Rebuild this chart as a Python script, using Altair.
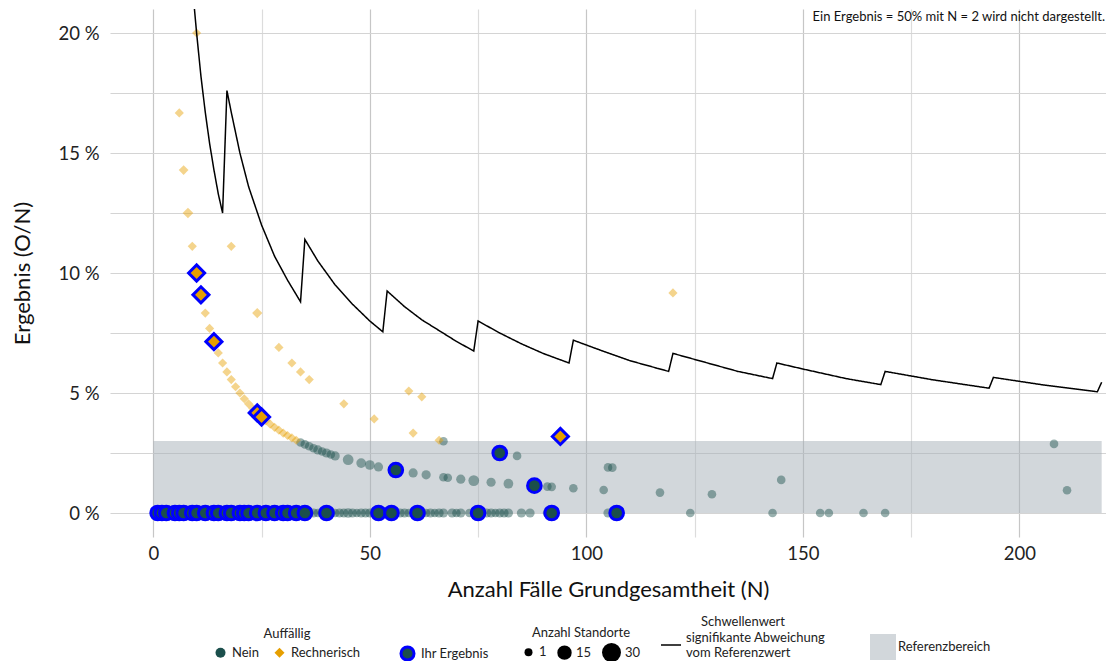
import altair as alt
import pandas as pd

FONT = "Lato"
TEAL = "#1b4f4c"
ORANGE = "#e69f00"
BLUE = "#0000ff"

# ---------------- data ----------------
# faint points, Auffällig = Nein
nein_n = [36, 37, 38, 39, 41, 42, 43, 44, 45, 46, 47, 48, 49, 50, 51, 53, 54, 57, 58, 59,
          62, 63, 64, 65, 66, 67, 69, 70, 71, 73, 77, 78, 79, 80, 81, 82, 85, 87, 91, 105,
          124, 143, 154, 156, 164, 169, 8, 13, 19, 25, 27, 29, 34,
          34, 35, 36, 37, 38, 39, 40, 41, 42, 45, 48, 50, 52, 60, 63, 67, 68, 71, 74, 78,
          82, 91, 92, 97, 104, 117, 129, 67, 84, 105, 106, 145, 208, 211]
nein_pct = [0] * 53 + [
    2.94, 2.86, 2.78, 2.70, 2.63, 2.56, 2.50, 2.44, 2.38, 2.22, 2.08, 2.00, 1.92, 1.67, 1.59,
    1.49, 1.47, 1.41, 1.35, 1.28, 1.22, 1.10, 1.09, 1.03, 0.96, 0.85, 0.78, 2.99, 2.38, 1.90,
    1.89, 1.38, 2.88, 0.95]
nein_st = [3, 3, 2, 3, 3, 2, 3, 3, 4, 3, 2, 3, 3, 3, 2, 3, 2, 3, 3, 2,
           3, 2, 3, 2, 3, 3, 3, 2, 3, 2, 3, 3, 2, 3, 3, 3, 3, 3, 3, 3,
           2, 2, 2, 2, 2, 2, 3, 3, 3, 3, 3, 3, 3,
           2, 2, 2, 2, 3, 2, 3, 2, 3, 6, 4, 4, 3, 3, 3, 2, 2, 3, 6, 3,
           4, 2, 2, 2, 2, 2, 2, 2, 2, 2, 2, 2, 2, 2]

# faint points, Auffällig = Rechnerisch
rech_n = [6, 7, 8, 9, 10, 18, 12, 13, 15, 16, 17, 18, 19, 20, 21, 22, 23, 26, 27, 28, 29,
          30, 31, 32, 33, 24, 29, 32, 34, 36, 44, 51, 59, 62, 60, 66, 120]
rech_pct = [16.67, 14.29, 12.5, 11.11, 20.0, 11.11, 8.33, 7.69, 6.67, 6.25, 5.88, 5.56,
            5.26, 5.0, 4.76, 4.55, 4.35, 3.85, 3.70, 3.57, 3.45, 3.33, 3.23, 3.13, 3.03,
            8.33, 6.90, 6.25, 5.88, 5.56, 4.55, 3.92, 5.08, 4.84, 3.33, 3.03, 9.17]
rech_st = [3, 4, 6, 3, 3, 3, 3, 3, 3, 3, 3, 3, 3, 3, 3, 3, 3, 3, 3, 3, 3,
           3, 3, 3, 3, 5, 3, 3, 3, 3, 3, 3, 3, 3, 3, 3, 3]

# highlighted points ("Ihr Ergebnis")
ihr_n = [1, 2, 3, 5, 6, 7, 9, 10, 12, 14, 15, 17, 18, 20, 21, 22, 24, 26, 28, 30, 31, 33,
         35, 40, 52, 55, 61, 75, 92, 107, 56, 80, 88,
         10, 11, 14, 24, 25, 94]
ihr_pct = [0] * 30 + [1.79, 2.50, 1.14, 10.0, 9.09, 7.14, 4.17, 4.0, 3.19]
ihr_auff = ["Nein"] * 33 + ["Rechnerisch"] * 6
ihr_st = [13] * 33 + [20] * 6

# threshold line "Schwellenwert"
thr_n = [9.5, 10, 11, 12, 13, 14, 15, 16,
         17, 18, 20, 22, 25, 28, 31, 34,
         35, 38, 42, 46, 50, 53,
         54, 58, 62, 66, 70, 74,
         75, 80, 85, 90, 96,
         97, 103, 110, 119,
         120, 128, 135, 143,
         144, 150, 160, 168,
         169, 180, 193,
         194, 205, 218,
         219]
thr_pct = [21.0, 20.0, 18.2, 16.7, 15.4, 14.3, 13.3, 12.5,
           17.6, 16.7, 15.0, 13.6, 12.0, 10.7, 9.7, 8.8,
           11.4, 10.5, 9.5, 8.7, 8.0, 7.55,
           9.25, 8.6, 8.05, 7.6, 7.15, 6.75,
           8.0, 7.5, 7.05, 6.65, 6.25,
           7.2, 6.8, 6.35, 5.9,
           6.65, 6.25, 5.9, 5.6,
           6.25, 6.0, 5.6, 5.35,
           5.9, 5.55, 5.2,
           5.65, 5.35, 5.05,
           5.45]

# reference range
ref_n = [0]
ref_n2 = [219]
ref_lo = [0]
ref_hi = [3]

note_text = "Ein Ergebnis = 50% mit N = 2 wird nicht dargestellt."
thr_label = "signifikante Abweichung vom Referenzwert"

# ---------------- tables ----------------
faint = pd.DataFrame({
    "N": nein_n + rech_n,
    "pct": nein_pct + rech_pct,
    "auff": ["Nein"] * len(nein_n) + ["Rechnerisch"] * len(rech_n),
    "st": nein_st + rech_st,
})
ihr = pd.DataFrame({"N": ihr_n, "pct": ihr_pct, "auff": ihr_auff, "st": ihr_st,
                    "ihr": ["Ihr Ergebnis"] * len(ihr_n)})
thr = pd.DataFrame({"N": thr_n, "pct": thr_pct, "idx": list(range(len(thr_n))),
                    "lab": [thr_label] * len(thr_n)})
ref = pd.DataFrame({"n0": ref_n, "n1": ref_n2, "lo": ref_lo, "hi": ref_hi,
                    "lab": ["Referenzbereich"]})

# ---------------- scales / axes ----------------
xscale = alt.Scale(domain=[-10, 220], nice=False, zero=False)
yscale = alt.Scale(domain=[-1, 21], nice=False, zero=False)

xaxis = alt.Axis(
    title="Anzahl Fälle Grundgesamtheit (N)",
    values=[0, 25, 50, 75, 100, 125, 150, 175, 200],
    labelExpr="datum.value % 50 == 0 ? datum.label : ''",
    ticks=False, domain=False, labelFlush=False,
    labelPadding=7, labelFontSize=18.5, labelFont=FONT, labelColor="#222",
    titleFontSize=22, titleFont=FONT, titleFontWeight="normal", titleColor="#111",
    titleX=498, titleY=52, titleBaseline="middle", titleAlign="center", titleAnchor="middle",
    gridColor={"condition": {"test": "datum.value % 50 == 0", "value": "#c6c6c6"},
               "value": "#dcdcdc"},
    gridWidth=1.2,
)
yaxis = alt.Axis(
    title="Ergebnis (O/N)",
    values=[0, 2.5, 5, 7.5, 10, 12.5, 15, 17.5, 20],
    labelExpr="datum.value % 5 == 0 ? datum.value + ' %' : ''",
    ticks=False, domain=False, labelFlush=False,
    labelPadding=11, labelFontSize=18.5, labelFont=FONT, labelColor="#222",
    titleFontSize=22, titleFont=FONT, titleFontWeight="normal", titleColor="#111",
    titleX=-88, titleY=264, titleAngle=-90, titleBaseline="middle", titleAlign="center",
    gridColor="#d4d4d4", gridWidth=1.2,
)

X = alt.X("N:Q", scale=xscale, axis=xaxis)
Y = alt.Y("pct:Q", scale=yscale, axis=yaxis)

leg_auff = alt.Legend(title="Auffällig", orient="none", legendX=104, legendY=619,
                      direction="horizontal", titleAnchor="middle", titlePadding=5,
                      symbolSize=100, symbolOpacity=1, symbolStrokeWidth=0,
                      labelOffset=5, columnPadding=14)
color_enc = alt.Color("auff:N", scale=alt.Scale(domain=["Nein", "Rechnerisch"],
                                                range=[TEAL, ORANGE]), legend=leg_auff)
shape_enc = alt.Shape("auff:N", scale=alt.Scale(domain=["Nein", "Rechnerisch"],
                                                range=["circle", "diamond"]), legend=leg_auff)
size_enc = alt.Size("st:Q", scale=alt.Scale(domain=[1, 30], range=[64, 360]),
                    legend=alt.Legend(title="Anzahl Standorte", orient="none",
                                      legendX=412, legendY=618, direction="horizontal",
                                      values=[1, 15, 30], titleAnchor="middle", titlePadding=3,
                                      symbolFillColor="black", symbolStrokeColor="black",
                                      symbolOpacity=1, symbolStrokeWidth=0, symbolType="circle",
                                      labelOffset=4, columnPadding=10))

# ---------------- layers ----------------
rect = alt.Chart(ref).mark_rect(opacity=0.5).encode(
    x=alt.X("n0:Q", scale=xscale, axis=xaxis), x2="n1:Q",
    y=alt.Y("lo:Q", scale=yscale, axis=yaxis), y2="hi:Q",
    fill=alt.Fill("lab:N", scale=alt.Scale(domain=["Referenzbereich"], range=["#a6b0b8"]),
                  legend=alt.Legend(title=None, orient="none", legendX=760, legendY=625,
                                    symbolType="square", symbolSize=676, symbolOpacity=0.5,
                                    symbolStrokeWidth=0, labelOffset=2)),
)

pts_faint = alt.Chart(faint).mark_point(filled=True, opacity=0.45, strokeWidth=0).encode(
    x=X, y=Y, color=color_enc, shape=shape_enc, size=size_enc,
)

line = alt.Chart(thr).mark_line(color="black", strokeWidth=1.5, clip=True).encode(
    x=X, y=Y, order="idx:Q",
    strokeDash=alt.StrokeDash("lab:N", scale=alt.Scale(domain=[thr_label], range=[[1, 0]]),
                              legend=alt.Legend(title="Schwellenwert", orient="none",
                                                legendX=550, legendY=607, titleAnchor="middle",
                                                titlePadding=5, symbolType="stroke",
                                                symbolStrokeColor="black", symbolSize=400,
                                                symbolStrokeWidth=1.5, labelOffset=4,
                                                labelBaseline="bottom",
                                                labelExpr="['signifikante Abweichung', 'vom Referenzwert']")),
)

pts_ihr = alt.Chart(ihr).mark_point(filled=True, opacity=1, strokeWidth=3).encode(
    x=X, y=Y, color=color_enc, shape=shape_enc, size=size_enc,
    stroke=alt.Stroke("ihr:N", scale=alt.Scale(domain=["Ihr Ergebnis"], range=[BLUE]),
                      legend=alt.Legend(title=None, orient="none", legendX=289, legendY=636,
                                        symbolType="circle", symbolSize=170,
                                        symbolFillColor=TEAL, symbolStrokeWidth=3,
                                        symbolOpacity=1, labelOffset=5)),
)

note = alt.Chart(pd.DataFrame({"t": [note_text]})).mark_text(
    align="right", baseline="middle", font=FONT, fontSize=13, color="#111", dx=-1,
).encode(x=alt.datum(220), y=alt.datum(20.65), text="t:N")

chart = alt.layer(rect, pts_faint, line, pts_ihr, note).properties(
    width=996, height=528,
    autosize=alt.AutoSizeParams(type="none"),
    padding={"left": 102, "top": 1, "right": 0, "bottom": 124},
).configure_view(stroke=None).configure_legend(
    labelFont=FONT, labelFontSize=13, labelColor="#222",
    titleFont=FONT, titleFontSize=13, titleFontWeight="normal", titleColor="#222",
)

chart.save("out.html", embed_options={"renderer": "svg", "actions": False})
